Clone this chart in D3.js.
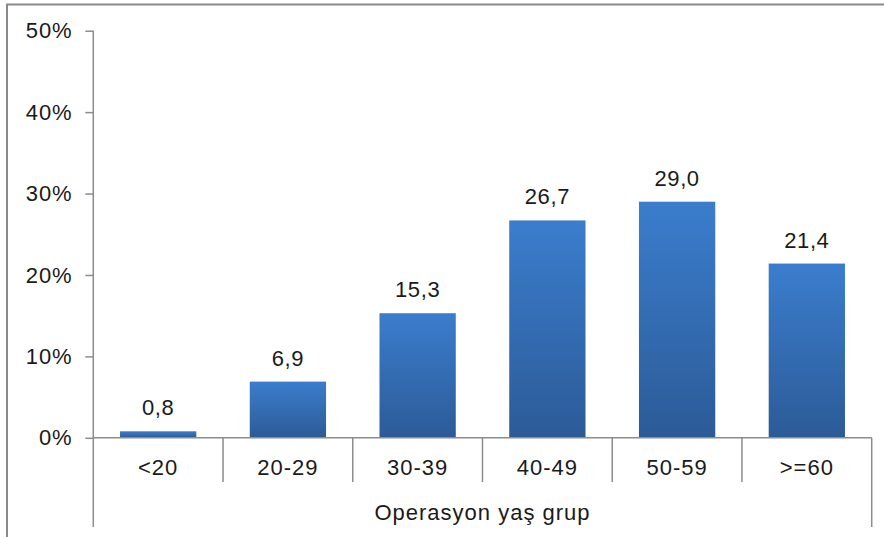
<!DOCTYPE html>
<html>
<head>
<meta charset="utf-8">
<script src="https://cdn.jsdelivr.net/npm/d3@7/dist/d3.min.js"></script>
<style>
  html, body { margin: 0; padding: 0; background: #fff; }
  svg text { font-family: "Liberation Sans", Arial, sans-serif; fill: #1a1a1a; }
</style>
</head>
<body>
<svg id="chart" width="884" height="537"></svg>
<script>
// Age groups at operation and share of patients (%)
const categories = ["<20", "20-29", "30-39", "40-49", "50-59", ">=60"];
const values = [0.8, 6.9, 15.3, 26.7, 29.0, 21.4];
const yTicks = [0, 10, 20, 30, 40, 50];
const axisTitle = "Operasyon yaş grup";

const svg = d3.select("#chart");
const plotLeft = 93.3, plotRight = 871.7, plotTop = 30.7, plotBase = 437.8;
const axisColor = "#8c8c8c";
const fontSize = 22;

// outer frame
svg.append("rect")
  .attr("x", 7).attr("y", 4.5)
  .attr("width", 1000).attr("height", 1000)
  .attr("fill", "none").attr("stroke", "#8a8a8a").attr("stroke-width", 2);

const x = d3.scaleBand().domain(categories).range([plotLeft, plotRight]).padding(0);
const y = d3.scaleLinear().domain([0, 50]).range([plotBase, plotTop]);
const barW = x.bandwidth() * 0.588;

// bar gradient
const defs = svg.append("defs");
const grad = defs.append("linearGradient").attr("id", "barGrad")
  .attr("x1", 0).attr("y1", 0).attr("x2", 0).attr("y2", 1);
grad.append("stop").attr("offset", "0%").attr("stop-color", "#3b7dcd");
grad.append("stop").attr("offset", "100%").attr("stop-color", "#2c5b97");

// y axis
const yAxis = d3.axisLeft(y)
  .tickValues(yTicks)
  .tickSize(8)
  .tickPadding(13)
  .tickFormat(d => d + "%");
const yg = svg.append("g").attr("transform", `translate(${plotLeft},0)`).call(yAxis);
yg.select(".domain").remove();
yg.selectAll(".tick line").attr("stroke", axisColor).attr("stroke-width", 1.5);
yg.selectAll(".tick text")
  .attr("font-size", fontSize)
  .attr("letter-spacing", "0.8px")
  .style("font-family", '"Liberation Sans", Arial, sans-serif')
  .attr("fill", "#1a1a1a");

// left axis line running down past the category row
svg.append("line")
  .attr("x1", plotLeft).attr("x2", plotLeft)
  .attr("y1", plotTop).attr("y2", 527)
  .attr("stroke", axisColor).attr("stroke-width", 1.5);

// bars
svg.append("g").selectAll("rect")
  .data(values)
  .join("rect")
  .attr("x", (d, i) => x(categories[i]) + (x.bandwidth() - barW) / 2)
  .attr("y", d => y(d))
  .attr("width", barW)
  .attr("height", d => y(0) - y(d))
  .attr("fill", "url(#barGrad)");

// value labels
svg.append("g").selectAll("text")
  .data(values)
  .join("text")
  .attr("x", (d, i) => x(categories[i]) + x.bandwidth() / 2)
  .attr("y", d => y(d) - 16)
  .attr("text-anchor", "middle")
  .attr("font-size", fontSize)
  .attr("letter-spacing", "0.6px")
  .text(d => d.toFixed(1).replace(".", ","));

// baseline
svg.append("line")
  .attr("x1", plotLeft).attr("x2", plotRight)
  .attr("y1", plotBase).attr("y2", plotBase)
  .attr("stroke", axisColor).attr("stroke-width", 1.5);

// category separators
const seps = categories.map(c => x(c) + x.bandwidth()).slice(0, -1);
svg.append("g").selectAll("line")
  .data(seps)
  .join("line")
  .attr("x1", d => d).attr("x2", d => d)
  .attr("y1", plotBase).attr("y2", 482)
  .attr("stroke", axisColor).attr("stroke-width", 1.5);

// right closing line
svg.append("line")
  .attr("x1", plotRight).attr("x2", plotRight)
  .attr("y1", plotBase).attr("y2", 527)
  .attr("stroke", axisColor).attr("stroke-width", 1.5);

// category labels
svg.append("g").selectAll("text")
  .data(categories)
  .join("text")
  .attr("x", d => x(d) + x.bandwidth() / 2)
  .attr("y", 467)
  .attr("dy", "0.35em")
  .attr("text-anchor", "middle")
  .attr("font-size", fontSize)
  .attr("letter-spacing", "1px")
  .text(d => d);

// axis title
svg.append("text")
  .attr("x", (plotLeft + plotRight) / 2)
  .attr("y", 512)
  .attr("dy", "0.35em")
  .attr("text-anchor", "middle")
  .attr("font-size", fontSize)
  .attr("letter-spacing", "1px")
  .text(axisTitle);
</script>
</body>
</html>
